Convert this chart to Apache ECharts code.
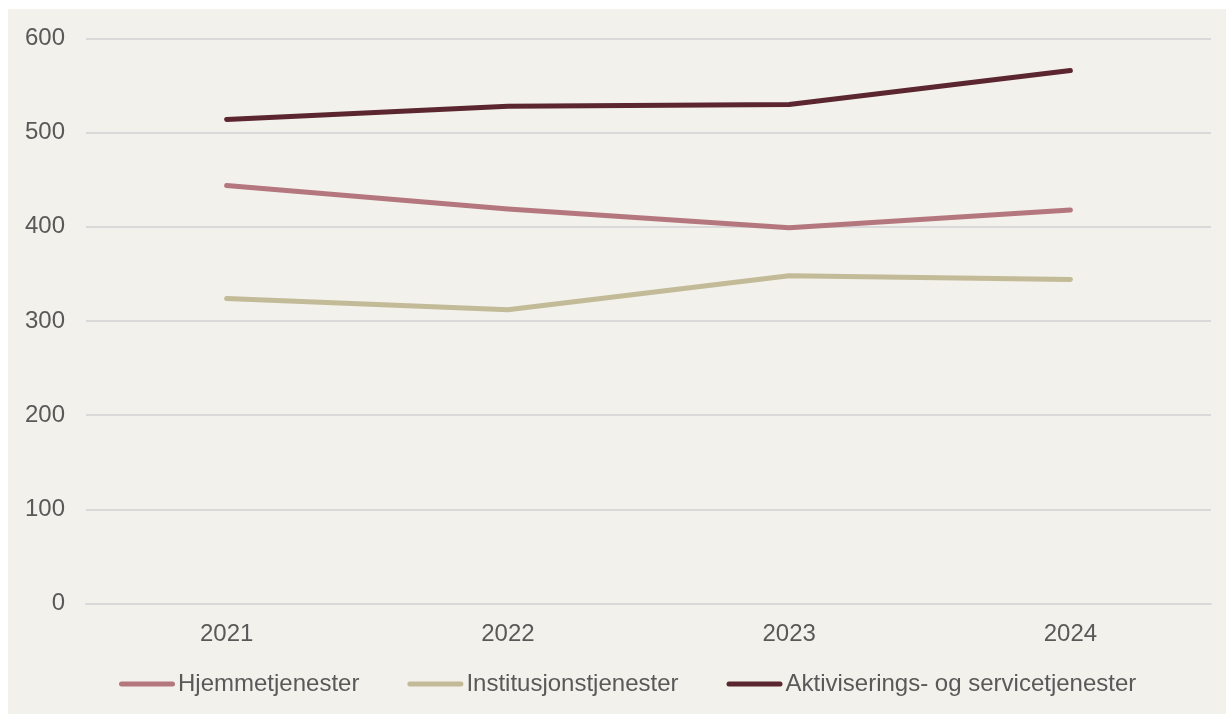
<!DOCTYPE html>
<html>
<head>
<meta charset="utf-8">
<script src="https://cdn.jsdelivr.net/npm/echarts@6/dist/echarts.min.js"></script>
<style>
  html, body { margin: 0; padding: 0; background: #ffffff; }
  #chart { position: absolute; left: 8px; top: 9px; width: 1218px; height: 705px; }
</style>
</head>
<body>
<div id="chart"></div>
<script>
// Years on the category axis
const years = ['2021', '2022', '2023', '2024'];

// Series values per year
const hjemmetjenester = [444, 419, 399, 418];
const institusjonstjenester = [324, 312, 348, 344];
const aktivisering = [514, 528, 530, 566];

// Series names shown in the legend
const seriesNames = ['Hjemmetjenester', 'Institusjonstjenester', 'Aktiviserings- og servicetjenester'];
const seriesColors = ['#b5777e', '#c3ba97', '#5b2630'];
const seriesData = [hjemmetjenester, institusjonstjenester, aktivisering];

const textColor = '#595959';
const fontFamily = '"Liberation Sans", Arial, sans-serif';
const legendIcon = 'path://M2.5,0 L53.5,0 A2.5,2.5 0 0 1 53.5,5 L2.5,5 A2.5,2.5 0 0 1 2.5,0 Z';

const chart = echarts.init(document.getElementById('chart'), null, { renderer: 'canvas' });

chart.setOption({
  backgroundColor: '#f2f1eb',
  animation: false,
  textStyle: { fontFamily: fontFamily, color: textColor },
  grid: { left: 78, right: 15, top: 29.5, bottom: 110.5, containLabel: false },
  legend: {
    left: 111,
    top: 663,
    padding: 0,
    itemWidth: 56,
    itemHeight: 5,
    itemGap: 48,
    icon: legendIcon,
    textStyle: { fontFamily: fontFamily, fontSize: 24, color: textColor, padding: [0, 0, 0, -2] },
    data: seriesNames
  },
  xAxis: {
    type: 'category',
    data: years,
    boundaryGap: true,
    axisLine: { show: true, lineStyle: { color: '#d9d9d9', width: 2 } },
    axisTick: { show: false },
    axisLabel: { fontSize: 24, color: textColor, margin: 19, fontFamily: fontFamily }
  },
  yAxis: {
    type: 'value',
    min: 0,
    max: 600,
    interval: 100,
    axisLine: { show: false },
    axisTick: { show: false },
    axisLabel: { fontSize: 24, color: textColor, margin: 21, fontFamily: fontFamily },
    splitLine: { show: true, lineStyle: { color: '#d9d9d9', width: 2 } }
  },
  series: seriesNames.map((name, i) => ({
    name: name,
    type: 'line',
    data: seriesData[i],
    symbol: 'none',
    color: seriesColors[i],
    lineStyle: { width: 5, color: seriesColors[i], cap: 'round', join: 'round' }
  }))
});
</script>
</body>
</html>
